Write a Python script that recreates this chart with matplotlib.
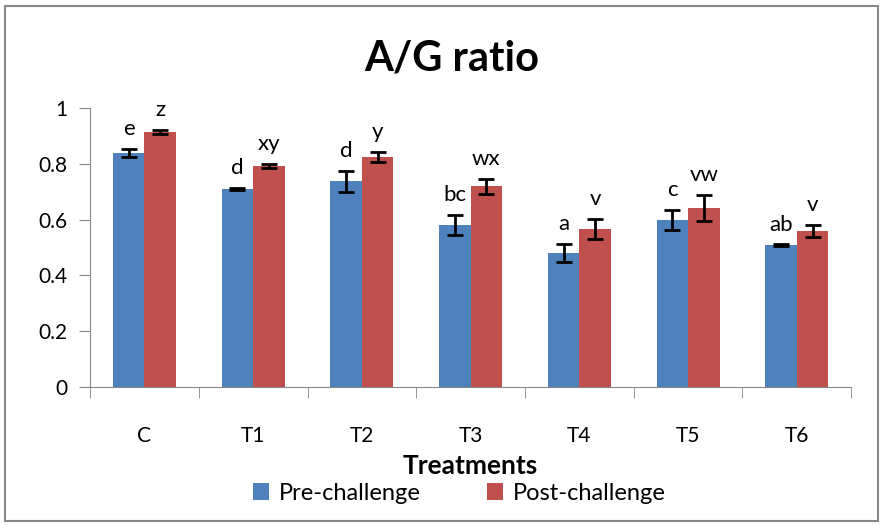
import numpy as np
import matplotlib.pyplot as plt
from matplotlib import rcParams
from matplotlib.patches import Rectangle
rcParams['font.family'] = ['Lato', 'DejaVu Sans']
rcParams['font.size'] = 15

treatments = ['C', 'T1', 'T2', 'T3', 'T4', 'T5', 'T6']
pre = [0.839, 0.710, 0.737, 0.581, 0.481, 0.600, 0.508]
pre_err = [0.015, 0.005, 0.037, 0.035, 0.032, 0.036, 0.003]
post = [0.915, 0.792, 0.824, 0.719, 0.567, 0.642, 0.560]
post_err = [0.006, 0.007, 0.018, 0.026, 0.037, 0.046, 0.021]
pre_letters = ['e', 'd', 'd', 'bc', 'a', 'c', 'ab']
post_letters = ['z', 'xy', 'y', 'wx', 'v', 'vw', 'v']

blue = '#4f81bd'
red = '#c0504d'

fig = plt.figure(figsize=(8.83, 5.25), dpi=100)
fig.patches.append(Rectangle((0.006, 0.008), 0.988, 0.98, transform=fig.transFigure,
                             fill=False, edgecolor='#888888', linewidth=1.5))
ax = fig.add_axes([0.102, 0.263, 0.862, 0.531])

x = np.arange(len(treatments))
w = 0.29
ekw = dict(elinewidth=2, capthick=2, capsize=6, ecolor='black')
ax.bar(x - w / 2, pre, w, color=blue, yerr=pre_err, error_kw=ekw, label='Pre-challenge')
ax.bar(x + w / 2, post, w, color=red, yerr=post_err, error_kw=ekw, label='Post-challenge')

for i in range(len(x)):
    ax.text(x[i] - w / 2, pre[i] + pre_err[i] + 0.035, pre_letters[i], ha='center', va='bottom', fontsize=16)
    ax.text(x[i] + w / 2, post[i] + post_err[i] + 0.035, post_letters[i], ha='center', va='bottom', fontsize=16)

ax.set_xlim(-0.5, len(x) - 0.5)
ax.set_ylim(0, 1)
ax.set_yticks([0, 0.2, 0.4, 0.6, 0.8, 1])
ax.set_yticklabels(['0', '0.2', '0.4', '0.6', '0.8', '1'])
ax.set_xticks(x)
ax.set_xticklabels(treatments)
ax.set_xticks(np.arange(-0.5, len(x)), minor=True)
ax.tick_params(axis='x', which='major', length=0, pad=28)
ax.tick_params(axis='x', which='minor', length=8, color='#888888', direction='out')
ax.tick_params(axis='y', length=8, color='#888888', direction='out', pad=8)
for s in ['top', 'right']:
    ax.spines[s].set_visible(False)
for s in ['left', 'bottom']:
    ax.spines[s].set_color('#888888')

ax.set_xlabel('Treatments', fontsize=19, fontweight='bold', labelpad=6)
fig.suptitle('A/G ratio', fontsize=30, fontweight='bold', x=0.512, y=0.925)
fig.legend(loc='center', bbox_to_anchor=(0.52, 0.06), ncol=2, frameon=False,
           handlelength=0.7, handleheight=0.7, columnspacing=2.8, handletextpad=0.4, fontsize=17)

fig.savefig('out.png', dpi=100)
